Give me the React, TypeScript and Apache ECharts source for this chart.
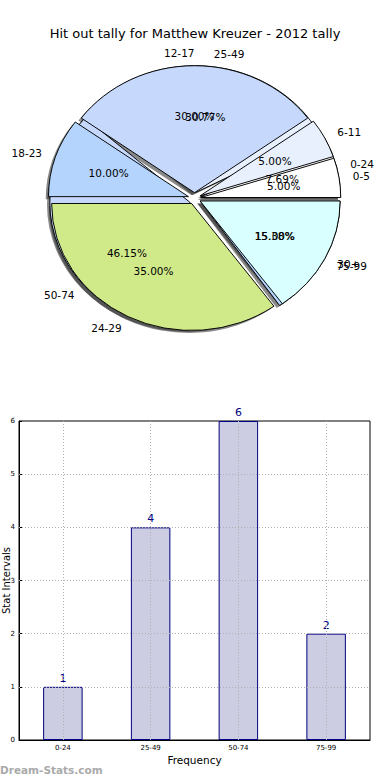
import React, { useEffect, useRef } from "react";
import * as echarts from "echarts";

const TITLE = "Hit out tally for Matthew Kreuzer - 2012 tally";
const AGE_LABELS = ["0-5", "6-11", "12-17", "18-23", "24-29", "30+"];
const AGE_VALUES = [1, 1, 6, 2, 7, 3];
const FREQ_LABELS = ["0-24", "25-49", "50-74", "75-99"];
const FREQ_VALUES = [1, 4, 6, 2];
const Y_TICKS = [0, 1, 2, 3, 4, 5, 6];
const PIE_COLORS = ["#ffffff", "#e8f0fe", "#c6d9fd", "#b4d4fe", "#d0ea8a", "#d9ffff"];
const WATERMARK = "Dream-Stats.com";
const Y_NAME = "Stat Intervals";
const X_NAME = "Frequency";

// pie layout (pixels)
const CX = 194.5;
const CY = 198.4;
const SX = 140;
const SY = 127;
const EXPLODE = 0.045;
const LABEL_D = 1.1;
const PCT_D = 0.6;
const SHADOW = 0.02;
const FONT = "DejaVu Sans";

type Kind = "shadow" | "wedge" | "text";

function pieSeries(kind: Kind, values: number[], labels: string[], z: number) {
  const total = values.reduce((a, b) => a + b, 0);
  const starts: number[] = [];
  let acc = 0;
  values.forEach((v) => {
    starts.push(acc);
    acc += v;
  });
  return {
    type: "custom",
    coordinateSystem: "none",
    z,
    silent: true,
    data: values,
    renderItem: (params: any) => {
      const i = params.dataIndex;
      const t1 = (starts[i] / total) * 2 * Math.PI;
      const t2 = ((starts[i] + values[i]) / total) * 2 * Math.PI;
      const tm = (t1 + t2) / 2;
      const c = Math.cos(tm);
      const s = Math.sin(tm);
      const ox = CX + EXPLODE * SX * c;
      const oy = CY - EXPLODE * SY * s;
      if (kind === "shadow" || kind === "wedge") {
        const sh = kind === "shadow";
        return {
          type: "sector",
          x: ox + (sh ? -SHADOW * SX : 0),
          y: oy + (sh ? SHADOW * SY : 0),
          scaleY: SY / SX,
          shape: { cx: 0, cy: 0, r: SX, r0: 0, startAngle: -t1, endAngle: -t2, clockwise: false },
          style: sh
            ? { fill: "rgba(40,40,40,0.55)", stroke: "none" }
            : { fill: PIE_COLORS[i % PIE_COLORS.length], stroke: "#000", lineWidth: 1 },
        };
      }
      const pct = ((values[i] / total) * 100).toFixed(2) + "%";
      return {
        type: "group",
        children: [
          {
            type: "text",
            x: CX + (EXPLODE + LABEL_D) * SX * c,
            y: CY - (EXPLODE + LABEL_D) * SY * s,
            style: {
              text: labels[i],
              fill: "#000",
              fontSize: 10.5,
              fontFamily: FONT,
              align: c > 1e-9 ? "left" : "right",
              verticalAlign: "middle",
            },
          },
          {
            type: "text",
            x: CX + (EXPLODE + PCT_D) * SX * c,
            y: CY - (EXPLODE + PCT_D) * SY * s,
            style: {
              text: pct,
              fill: "#000",
              fontSize: 10.5,
              fontFamily: FONT,
              align: "center",
              verticalAlign: "middle",
            },
          },
        ],
      };
    },
  };
}

export default function App() {
  const ref = useRef<HTMLDivElement>(null);
  useEffect(() => {
    if (!ref.current) return;
    const chart = echarts.init(ref.current, undefined, { renderer: "svg" });
    const gridLineStyle = { type: [1, 2], color: "#b0b0b0", width: 1 };
    chart.setOption({
      animation: false,
      textStyle: { fontFamily: FONT },
      title: {
        text: TITLE,
        left: "center",
        top: 22,
        textStyle: { fontSize: 13, fontWeight: "normal", color: "#000", fontFamily: FONT },
      },
      graphic: [
        {
          type: "text",
          left: 0,
          top: 764,
          style: { text: WATERMARK, fill: "#aaaaaa", fontSize: 10.5, fontWeight: "bold", fontFamily: FONT },
        },
      ],
      grid: {
        left: 19,
        top: 421,
        width: 351,
        height: 319,
        containLabel: false,
        outerBoundsMode: "none",
        show: true,
        borderColor: "#000",
        borderWidth: 1,
        backgroundColor: "transparent",
      },
      xAxis: {
        type: "category",
        data: FREQ_LABELS,
        name: X_NAME,
        nameLocation: "middle",
        nameGap: 14,
        nameMoveOverlap: false,
        nameTextStyle: { fontSize: 10.5, color: "#000", fontFamily: FONT },
        axisLine: { show: true, lineStyle: { color: "#000", width: 1 } },
        axisTick: { show: true, alignWithLabel: true, inside: true, length: 3, lineStyle: { color: "#000" } },
        axisLabel: { fontSize: 7, color: "#000", margin: 4 },
        splitLine: { show: false },
      },
      yAxis: {
        type: "value",
        min: Y_TICKS[0],
        max: Y_TICKS[Y_TICKS.length - 1],
        interval: 1,
        name: Y_NAME,
        nameLocation: "middle",
        nameGap: 8,
        nameMoveOverlap: false,
        nameTextStyle: { fontSize: 10, color: "#000", fontFamily: FONT },
        axisLine: { show: true, lineStyle: { color: "#000", width: 1 } },
        axisTick: { show: true, inside: true, length: 3, lineStyle: { color: "#000" } },
        axisLabel: { fontSize: 7, color: "#000", margin: 4 },
        splitLine: { show: false },
      },
      series: [
        pieSeries("shadow", FREQ_VALUES, FREQ_LABELS, 1),
        pieSeries("shadow", AGE_VALUES, AGE_LABELS, 1),
        pieSeries("wedge", FREQ_VALUES, FREQ_LABELS, 2),
        pieSeries("wedge", AGE_VALUES, AGE_LABELS, 3),
        pieSeries("text", FREQ_VALUES, FREQ_LABELS, 4),
        pieSeries("text", AGE_VALUES, AGE_LABELS, 5),
        {
          type: "bar",
          data: FREQ_VALUES,
          barWidth: "45%",
          itemStyle: { color: "#ccccE3", borderColor: "#000080", borderWidth: 1 },
          label: { show: true, position: "top", distance: 3, color: "#000080", fontSize: 11, fontFamily: FONT },
          markLine: {
            silent: true,
            symbol: ["none", "none"],
            label: { show: false },
            lineStyle: gridLineStyle,
            data: [
              ...Y_TICKS.slice(1, -1).map((v) => ({ yAxis: v })),
              ...FREQ_LABELS.map((c) => ({ xAxis: c })),
            ],
          },
        },
      ],
    });
    return () => chart.dispose();
  }, []);
  return <div ref={ref} style={{ position: "absolute", left: 0, top: 0, width: 390, height: 780 }} />;
}
